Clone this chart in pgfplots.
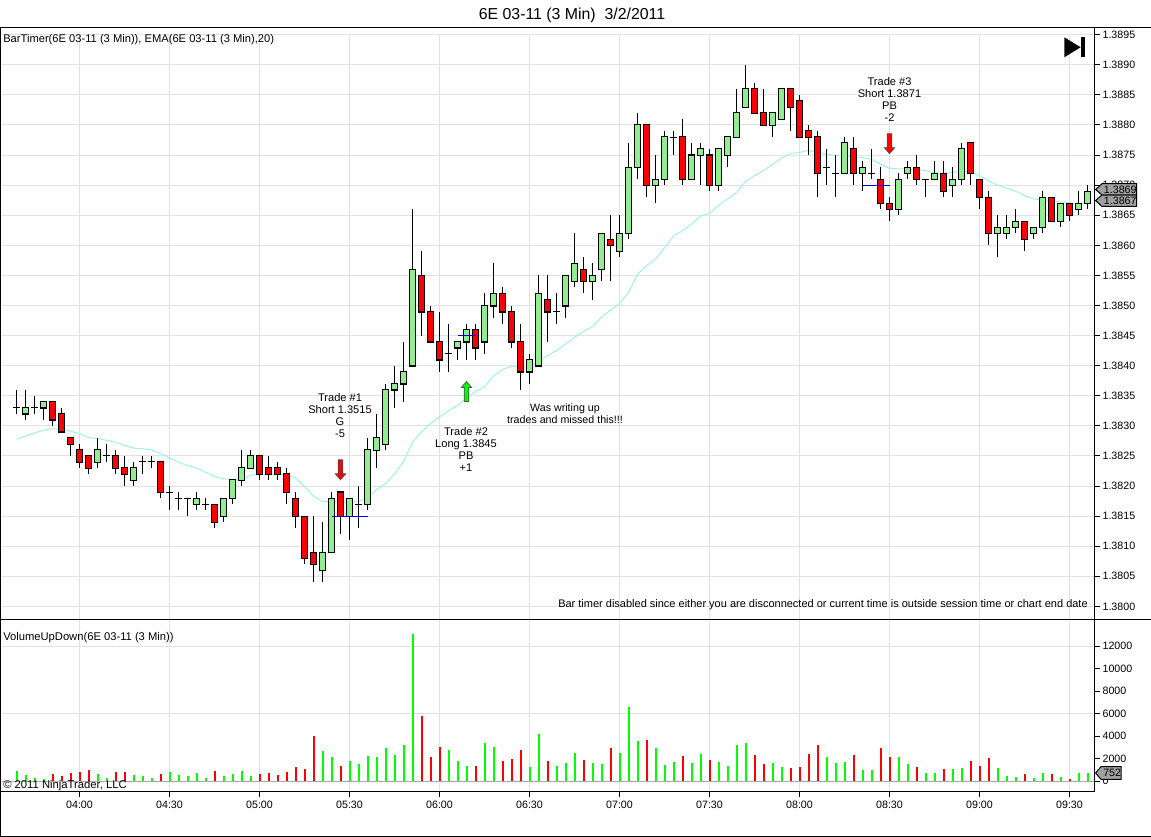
\documentclass[border=0pt]{standalone}
\usepackage{fontspec}
\setmainfont{Liberation Sans}
\usepackage{pgfplots}
\usepackage{pgfplotstable}
\pgfplotsset{compat=1.18}
\definecolor{gridc}{HTML}{E2E2E2}
\definecolor{upc}{HTML}{90EE90}
\definecolor{emac}{HTML}{A0F5D8}
\definecolor{tagc}{HTML}{A0A0A0}
\definecolor{zeroc}{HTML}{A8A8A8}
% k = bars from 04:00 (3 min each); o h l c
\pgfplotstableread{
k o h l c
-6 1.3832 1.3836 1.3831 1.3833
-4 1.3833 1.3834 1.3831 1.3834
2 1.3824 1.3828 1.3823 1.3826
6 1.3821 1.3824 1.3820 1.3823
13 1.3817 1.3819 1.3816 1.3818
16 1.3815 1.3818 1.3814 1.3818
17 1.3818 1.3821 1.3817 1.3821
18 1.3821 1.3826 1.3820 1.3823
19 1.3823 1.3826 1.3823 1.3825
27 1.3806 1.3814 1.3804 1.3809
28 1.3809 1.3819 1.3809 1.3818
30 1.3815 1.3818 1.3811 1.3818
32 1.3817 1.3828 1.3816 1.3826
33 1.3826 1.3832 1.3823 1.3828
34 1.3827 1.3837 1.3826 1.3836
35 1.3836 1.3840 1.3833 1.3837
36 1.3837 1.3844 1.3834 1.3839
37 1.3840 1.3866 1.3840 1.3856
42 1.3843 1.3844 1.3841 1.3844
43 1.3844 1.3847 1.3841 1.3846
45 1.3844 1.3852 1.3842 1.3850
46 1.3850 1.3857 1.3848 1.3852
50 1.3839 1.3842 1.3837 1.3841
51 1.3840 1.3855 1.3840 1.3852
54 1.3850 1.3855 1.3848 1.3855
55 1.3854 1.3862 1.3853 1.3857
57 1.3854 1.3857 1.3851 1.3855
58 1.3856 1.3862 1.3854 1.3862
60 1.3859 1.3865 1.3858 1.3862
61 1.3862 1.3877 1.3861 1.3873
62 1.3873 1.3882 1.3871 1.3880
64 1.3870 1.3875 1.3867 1.3871
65 1.3871 1.3879 1.3870 1.3878
68 1.3871 1.3877 1.3871 1.3875
69 1.3875 1.3877 1.3870 1.3876
71 1.3870 1.3876 1.3869 1.3876
72 1.3875 1.3878 1.3873 1.3878
73 1.3878 1.3886 1.3878 1.3882
74 1.3883 1.3890 1.3883 1.3886
77 1.3880 1.3882 1.3878 1.3882
78 1.3881 1.3886 1.3881 1.3886
85 1.3872 1.3878 1.3872 1.3877
87 1.3872 1.3874 1.3869 1.3873
91 1.3866 1.3872 1.3865 1.3871
92 1.3872 1.3874 1.3871 1.3873
95 1.3871 1.3874 1.3871 1.3872
97 1.3870 1.3873 1.3868 1.3871
98 1.3871 1.3877 1.3870 1.3876
102 1.3862 1.3865 1.3858 1.3863
103 1.3862 1.3865 1.3861 1.3863
104 1.3863 1.3866 1.3862 1.3864
106 1.3862 1.3863 1.3861 1.3863
107 1.3863 1.3869 1.3862 1.3868
109 1.3864 1.3867 1.3863 1.3867
111 1.3866 1.3869 1.3865 1.3867
112 1.3867 1.3870 1.3866 1.3869
}\up
\pgfplotstableread{
k o h l c
-3 1.3834 1.3834 1.3830 1.3831
-2 1.3832 1.3833 1.3829 1.3829
-1 1.3828 1.3828 1.3825 1.3827
0 1.3826 1.3827 1.3823 1.3824
1 1.3825 1.3825 1.3822 1.3823
4 1.3825 1.3826 1.3822 1.3823
5 1.3823 1.3825 1.3820 1.3822
9 1.3824 1.3824 1.3818 1.3819
15 1.3817 1.3817 1.3813 1.3814
20 1.3825 1.3825 1.3821 1.3822
21 1.3823 1.3825 1.3821 1.3822
22 1.3823 1.3824 1.3821 1.3822
23 1.3822 1.3823 1.3817 1.3819
24 1.3818 1.3819 1.3813 1.3815
25 1.3815 1.3815 1.3807 1.3808
26 1.3809 1.3815 1.3804 1.3807
29 1.3819 1.3819 1.3812 1.3815
38 1.3855 1.3859 1.3845 1.3849
39 1.3849 1.3850 1.3844 1.3844
40 1.3844 1.3849 1.3839 1.3841
44 1.3846 1.3847 1.3841 1.3843
47 1.3852 1.3853 1.3847 1.3849
48 1.3849 1.3850 1.3843 1.3844
49 1.3844 1.3847 1.3836 1.3839
52 1.3851 1.3855 1.3844 1.3849
56 1.3856 1.3858 1.3852 1.3854
59 1.3861 1.3865 1.3854 1.3860
63 1.3880 1.3880 1.3868 1.3870
67 1.3878 1.3881 1.3870 1.3871
70 1.3875 1.3876 1.3869 1.3870
75 1.3886 1.3887 1.3882 1.3882
76 1.3882 1.3886 1.3880 1.3880
79 1.3886 1.3886 1.3879 1.3883
80 1.3884 1.3885 1.3878 1.3878
81 1.3879 1.3880 1.3875 1.3878
82 1.3878 1.3879 1.3868 1.3872
86 1.3876 1.3878 1.3870 1.3872
89 1.3871 1.3873 1.3866 1.3867
90 1.3867 1.3868 1.3864 1.3866
93 1.3873 1.3875 1.3870 1.3871
96 1.3872 1.3874 1.3868 1.3869
99 1.3877 1.3877 1.3870 1.3872
100 1.3871 1.3871 1.3866 1.3868
101 1.3868 1.3869 1.3860 1.3862
105 1.3864 1.3864 1.3859 1.3861
108 1.3868 1.3868 1.3864 1.3864
110 1.3867 1.3867 1.3864 1.3865
}\down
\pgfplotstableread{
k o h l c
-7 1.3833 1.3836 1.3832 1.3833
-5 1.3833 1.3835 1.3832 1.3833
3 1.3825 1.3827 1.3824 1.3825
7 1.3824 1.3825 1.3822 1.3824
8 1.3824 1.3825 1.3823 1.3824
10 1.3819 1.3820 1.3816 1.3819
11 1.3818 1.3819 1.3816 1.3818
12 1.3818 1.3818 1.3815 1.3818
14 1.3817 1.3818 1.3816 1.3817
31 1.3817 1.3820 1.3813 1.3817
41 1.3842 1.3847 1.3839 1.3842
53 1.3849 1.3852 1.3847 1.3849
66 1.3878 1.3879 1.3875 1.3878
83 1.3873 1.3876 1.3870 1.3873
84 1.3872 1.3875 1.3868 1.3872
88 1.3872 1.3876 1.3871 1.3872
94 1.3871 1.3871 1.3868 1.3871
}\flat
\pgfplotstableread{
k e
-7 1.38278
-6 1.38283
-5 1.38288
-4 1.38293
-3 1.38295
-2 1.38295
-1 1.38291
0 1.38287
1 1.38281
2 1.38279
3 1.38276
4 1.38273
5 1.38268
6 1.38263
7 1.38262
8 1.38260
9 1.38254
10 1.38247
11 1.38240
12 1.38234
13 1.38230
14 1.38223
15 1.38216
16 1.38212
17 1.38211
18 1.38211
19 1.38218
20 1.38219
21 1.38219
22 1.38219
23 1.38219
24 1.38214
25 1.38199
26 1.38183
27 1.38174
28 1.38174
29 1.38174
30 1.38173
31 1.38174
32 1.38180
33 1.38194
34 1.38204
35 1.38220
36 1.38240
37 1.38273
38 1.38290
39 1.38304
40 1.38315
41 1.38325
42 1.38334
43 1.38346
44 1.38357
45 1.38365
46 1.38383
47 1.38394
48 1.38399
49 1.38397
50 1.38399
51 1.38408
52 1.38417
53 1.38425
54 1.38436
55 1.38447
56 1.38457
57 1.38465
58 1.38481
59 1.38492
60 1.38503
61 1.38522
62 1.38552
63 1.38566
64 1.38577
65 1.38596
66 1.38616
67 1.38624
68 1.38635
69 1.38649
70 1.38653
71 1.38666
72 1.38677
73 1.38688
74 1.38706
75 1.38716
76 1.38724
77 1.38735
78 1.38745
79 1.38753
80 1.38754
81 1.38758
82 1.38754
83 1.38752
84 1.38749
85 1.38749
86 1.38747
87 1.38746
88 1.38743
89 1.38735
90 1.38728
91 1.38727
92 1.38727
93 1.38726
94 1.38724
95 1.38721
96 1.38720
97 1.38721
98 1.38723
99 1.38723
100 1.38716
101 1.38707
102 1.38700
103 1.38695
104 1.38690
105 1.38683
106 1.38677
107 1.38676
108 1.38674
109 1.38672
110 1.38671
111 1.38669
112 1.38670
}\ema
\pgfplotstableread{
k v
-7 920
-6 560
-5 300
-4 200
2 650
3 300
6 560
7 470
8 300
10 830
11 560
12 470
13 740
14 300
16 470
17 650
18 920
19 470
27 2700
28 2160
30 1800
31 1540
32 2250
33 2160
34 2960
35 2340
36 3230
37 13100
41 2790
42 1800
43 1360
45 3400
46 3050
50 1270
51 4200
53 1360
54 1630
55 2520
57 1630
58 1540
60 2520
61 6600
62 3590
64 2960
65 1450
66 1720
68 1630
69 2430
71 1720
72 1360
73 3230
74 3400
77 1630
78 1270
83 2160
84 1630
85 1720
87 1000
88 1000
91 2160
92 1540
94 740
95 740
97 1100
98 1180
102 1180
103 470
104 385
106 300
107 740
109 385
111 740
112 752
}\volup
\pgfplotstableread{
k v
-3 650
-2 470
-1 740
0 830
1 1000
4 830
5 830
9 650
15 920
20 650
21 740
22 560
23 830
24 1270
25 1100
26 4030
29 1360
38 5800
39 2160
40 3050
44 1360
47 1800
48 1990
49 2790
52 1800
56 1900
59 2960
63 3670
67 2250
70 1900
75 2340
76 1540
79 1180
80 1270
81 2430
82 3230
86 2340
89 2960
90 2160
93 1270
96 1100
99 1800
100 1360
101 2070
105 650
108 650
110 200
}\voldown
\pgfdeclareplotmark{tradedown}{%
  \pgfpathmoveto{\pgfqpoint{-1.7pt}{7.5pt}}\pgfpathlineto{\pgfqpoint{1.7pt}{7.5pt}}%
  \pgfpathlineto{\pgfqpoint{1.7pt}{-3pt}}\pgfpathlineto{\pgfqpoint{3.9pt}{-3pt}}%
  \pgfpathlineto{\pgfqpoint{0pt}{-7.5pt}}\pgfpathlineto{\pgfqpoint{-3.9pt}{-3pt}}%
  \pgfpathlineto{\pgfqpoint{-1.7pt}{-3pt}}\pgfpathclose\pgfusepathqfillstroke}
\pgfdeclareplotmark{tradeup}{%
  \pgfpathmoveto{\pgfqpoint{-1.7pt}{-7.5pt}}\pgfpathlineto{\pgfqpoint{1.7pt}{-7.5pt}}%
  \pgfpathlineto{\pgfqpoint{1.7pt}{3pt}}\pgfpathlineto{\pgfqpoint{3.9pt}{3pt}}%
  \pgfpathlineto{\pgfqpoint{0pt}{7.5pt}}\pgfpathlineto{\pgfqpoint{-3.9pt}{3pt}}%
  \pgfpathlineto{\pgfqpoint{-1.7pt}{3pt}}\pgfpathclose\pgfusepathqfillstroke}
\newcommand{\wick}[1]{\addplot[draw=none,forget plot,error bars/.cd,y dir=both,y explicit,error mark=none,
   error bar style={black,line width=.75pt}] table[x=k,y=o,y error plus expr=\thisrow{h}-\thisrow{o},y error minus expr=\thisrow{o}-\thisrow{l}] {#1};}
% #1 table, #2 fill, #3 lower column, #4 upper column
\newcommand{\body}[4]{%
  \addplot[draw=none,forget plot,error bars/.cd,y dir=both,y explicit,error mark=none,
   error bar style={black,line width=5.6pt}] table[x=k,y=#3,y error plus expr=\thisrow{#4}-\thisrow{#3}+0.00001,y error minus expr=0.00001] {#1};
  \addplot[draw=none,forget plot,error bars/.cd,y dir=both,y explicit,error mark=none,
   error bar style={#2,line width=4.1pt}] table[x=k,y expr=\thisrow{#3}+0.000007,y error plus expr=\thisrow{#4}-\thisrow{#3}-0.000014,y error minus expr=0] {#1};}
\tikzset{px/.style={x=0.75pt,y=-0.75pt,yshift=627.75pt},
  lab/.style={inner sep=0pt,font=\fontsize{8.3}{10}\selectfont},
  num/.style={inner sep=0pt,font=\fontsize{8}{10}\selectfont}}
\pgfplotsset{common/.style={
  scale only axis,width=819.6pt,xmin=-8.667,xmax=112.756,
  axis line style={draw=none},clip=true,
  grid style={gridc,line width=.75pt},
  tick style={black,line width=.75pt},major tick length=4pt,tick align=outside,
  tick label style={font=\fontsize{8}{10}\selectfont,inner sep=2pt},
  /pgf/number format/assume math mode=true,
  xtick={0,10,...,110},xmajorgrids,
  ytick pos=right,yticklabel pos=right,
  y tick label style={anchor=west},
  xtick pos=bottom}}
\begin{document}
\begin{tikzpicture}
\path[use as bounding box] (0,0) rectangle (863.25pt,627.75pt);
\begin{axis}[common,at={(1.125pt,163.5pt)},anchor=south west,height=438.2pt,
  ymin=1.379791,ymax=1.3895,
  ytick={1.38,1.3805,1.381,1.3815,1.382,1.3825,1.383,1.3835,1.384,1.3845,1.385,1.3855,1.386,1.3865,1.387,1.3875,1.388,1.3885,1.389,1.3895},
  ymajorgrids,scaled y ticks=false,
  yticklabel style={/pgf/number format/fixed,/pgf/number format/fixed zerofill,/pgf/number format/precision=4},
  xticklabels={},x tick style={draw=none}]
\addplot[emac,line width=.75pt,forget plot] table[x=k,y=e] {\ema};
\wick{\up}\wick{\down}\wick{\flat}
\body{\up}{upc}{o}{c}\body{\down}{red}{c}{o}
\addplot[only marks,forget plot,mark=-,mark size=2.625pt,black,line width=.75pt] table[x=k,y=o] {\flat};
\addplot[blue!85!black,line width=.75pt,forget plot] coordinates {(28,1.3815)(32,1.3815)};
\addplot[blue!85!black,line width=.75pt,forget plot] coordinates {(42,1.3845)(44,1.3845)};
\addplot[blue!85!black,line width=.75pt,forget plot] coordinates {(87,1.3870)(90,1.3870)};
\addplot[only marks,mark=tradedown,mark options={fill=red,draw=black!70,line width=.5pt},forget plot] coordinates {(29,1.38227)(90,1.38769)};
\addplot[only marks,mark=tradeup,mark options={fill=green,draw=black!70,line width=.5pt},forget plot] coordinates {(43,1.38357)};
\end{axis}
\begin{axis}[common,at={(1.125pt,33.98pt)},anchor=south west,height=129.52pt,
  ymin=-924,ymax=14427,
  ytick={0,2000,4000,6000,8000,10000,12000},
  extra y ticks={6000,12000},extra y tick labels={},
  extra y tick style={grid=major,tick style={draw=none}},
  scaled y ticks=false,yticklabel style={/pgf/number format/1000 sep={}},
  xticklabels={04:00,04:30,05:00,05:30,06:00,06:30,07:00,07:30,08:00,08:30,09:00,09:30},
  x tick label style={yshift=-1pt}]
\addplot[ycomb,green,line width=1.5pt,forget plot] table[x=k,y=v] {\volup};
\addplot[ycomb,red,line width=1.5pt,forget plot] table[x=k,y=v] {\voldown};
\addplot[zeroc,line width=.75pt,forget plot] coordinates {(-8.667,0)(112.756,0)};
\end{axis}
\begin{scope}[px]
 \draw[black,line width=.75pt] (0,27.5)--(1151,27.5) (0.6,27.5)--(0.6,836.5)--(1151,836.5)
   (0.6,619.5)--(1151,619.5) (0.6,791.7)--(1094.4,791.7) (1094.4,27.5)--(1094.4,791.7);
 \node[lab,font=\fontsize{11.9}{14}\selectfont,anchor=base] at (572,19.3) {6E 03-11 (3 Min)\ \ 3/2/2011};
 \node[lab,font=\fontsize{8.37}{10}\selectfont,anchor=base west] at (3,43) {BarTimer(6E 03-11 (3 Min)), EMA(6E 03-11 (3 Min),20)};
 \node[lab,font=\fontsize{8.4}{10}\selectfont,anchor=base west] at (3,641) {VolumeUpDown(6E 03-11 (3 Min))};
 \node[lab,font=\fontsize{8.45}{10}\selectfont,anchor=base west] at (3,789) {© 2011 NinjaTrader, LLC};
 \node[lab,font=\fontsize{8.25}{10}\selectfont,anchor=base east] at (1088,607.5) {Bar timer disabled since either you are disconnected or current time is outside session time or chart end date};
 \foreach \yy/\tt in {402/Trade \#1,414/Short 1.3515,426/G,438/-5}
   \node[lab,anchor=base] at (340,\yy) {\tt};
 \foreach \yy/\tt in {436/Trade \#2,448/Long 1.3845,460/PB,472/+1}
   \node[lab,anchor=base] at (466,\yy) {\tt};
 \foreach \yy/\tt in {86/Trade \#3,98/Short 1.3871,110/PB,122/-2}
   \node[lab,anchor=base] at (889.5,\yy) {\tt};
 \node[lab,font=\fontsize{8}{10}\selectfont,anchor=base] at (565,412) {Was writing up};
 \node[lab,font=\fontsize{8}{10}\selectfont,anchor=base] at (565,424) {trades and missed this!!!};
 % end-of-chart icon
 \fill[black] (1064.3,37.3)--(1080.6,47.3)--(1064.3,57.3)--cycle;
 \fill[black] (1081,37.3) rectangle (1085.3,57.3);
 % last-value tags
 \draw[fill=tagc,line width=.75pt] (1095.5,200.5)--(1102,195)--(1136.7,195)--(1136.7,206.5)--(1102,206.5)--cycle;
 \draw[fill=tagc,line width=.75pt] (1095.5,189.5)--(1102,183.7)--(1136.7,183.7)--(1136.7,195)--(1102,195)--cycle;
 \node[num,anchor=base west] at (1103.7,194) {1.3869};
 \node[num,anchor=base west] at (1103.7,204.5) {1.3867};
 \draw[fill=tagc,line width=.75pt] (1095.5,773)--(1101,766.7)--(1121,766.7)--(1121,779.3)--(1101,779.3)--cycle;
 \node[num,anchor=base west] at (1103,777) {752};
\end{scope}
\end{tikzpicture}
\end{document}
